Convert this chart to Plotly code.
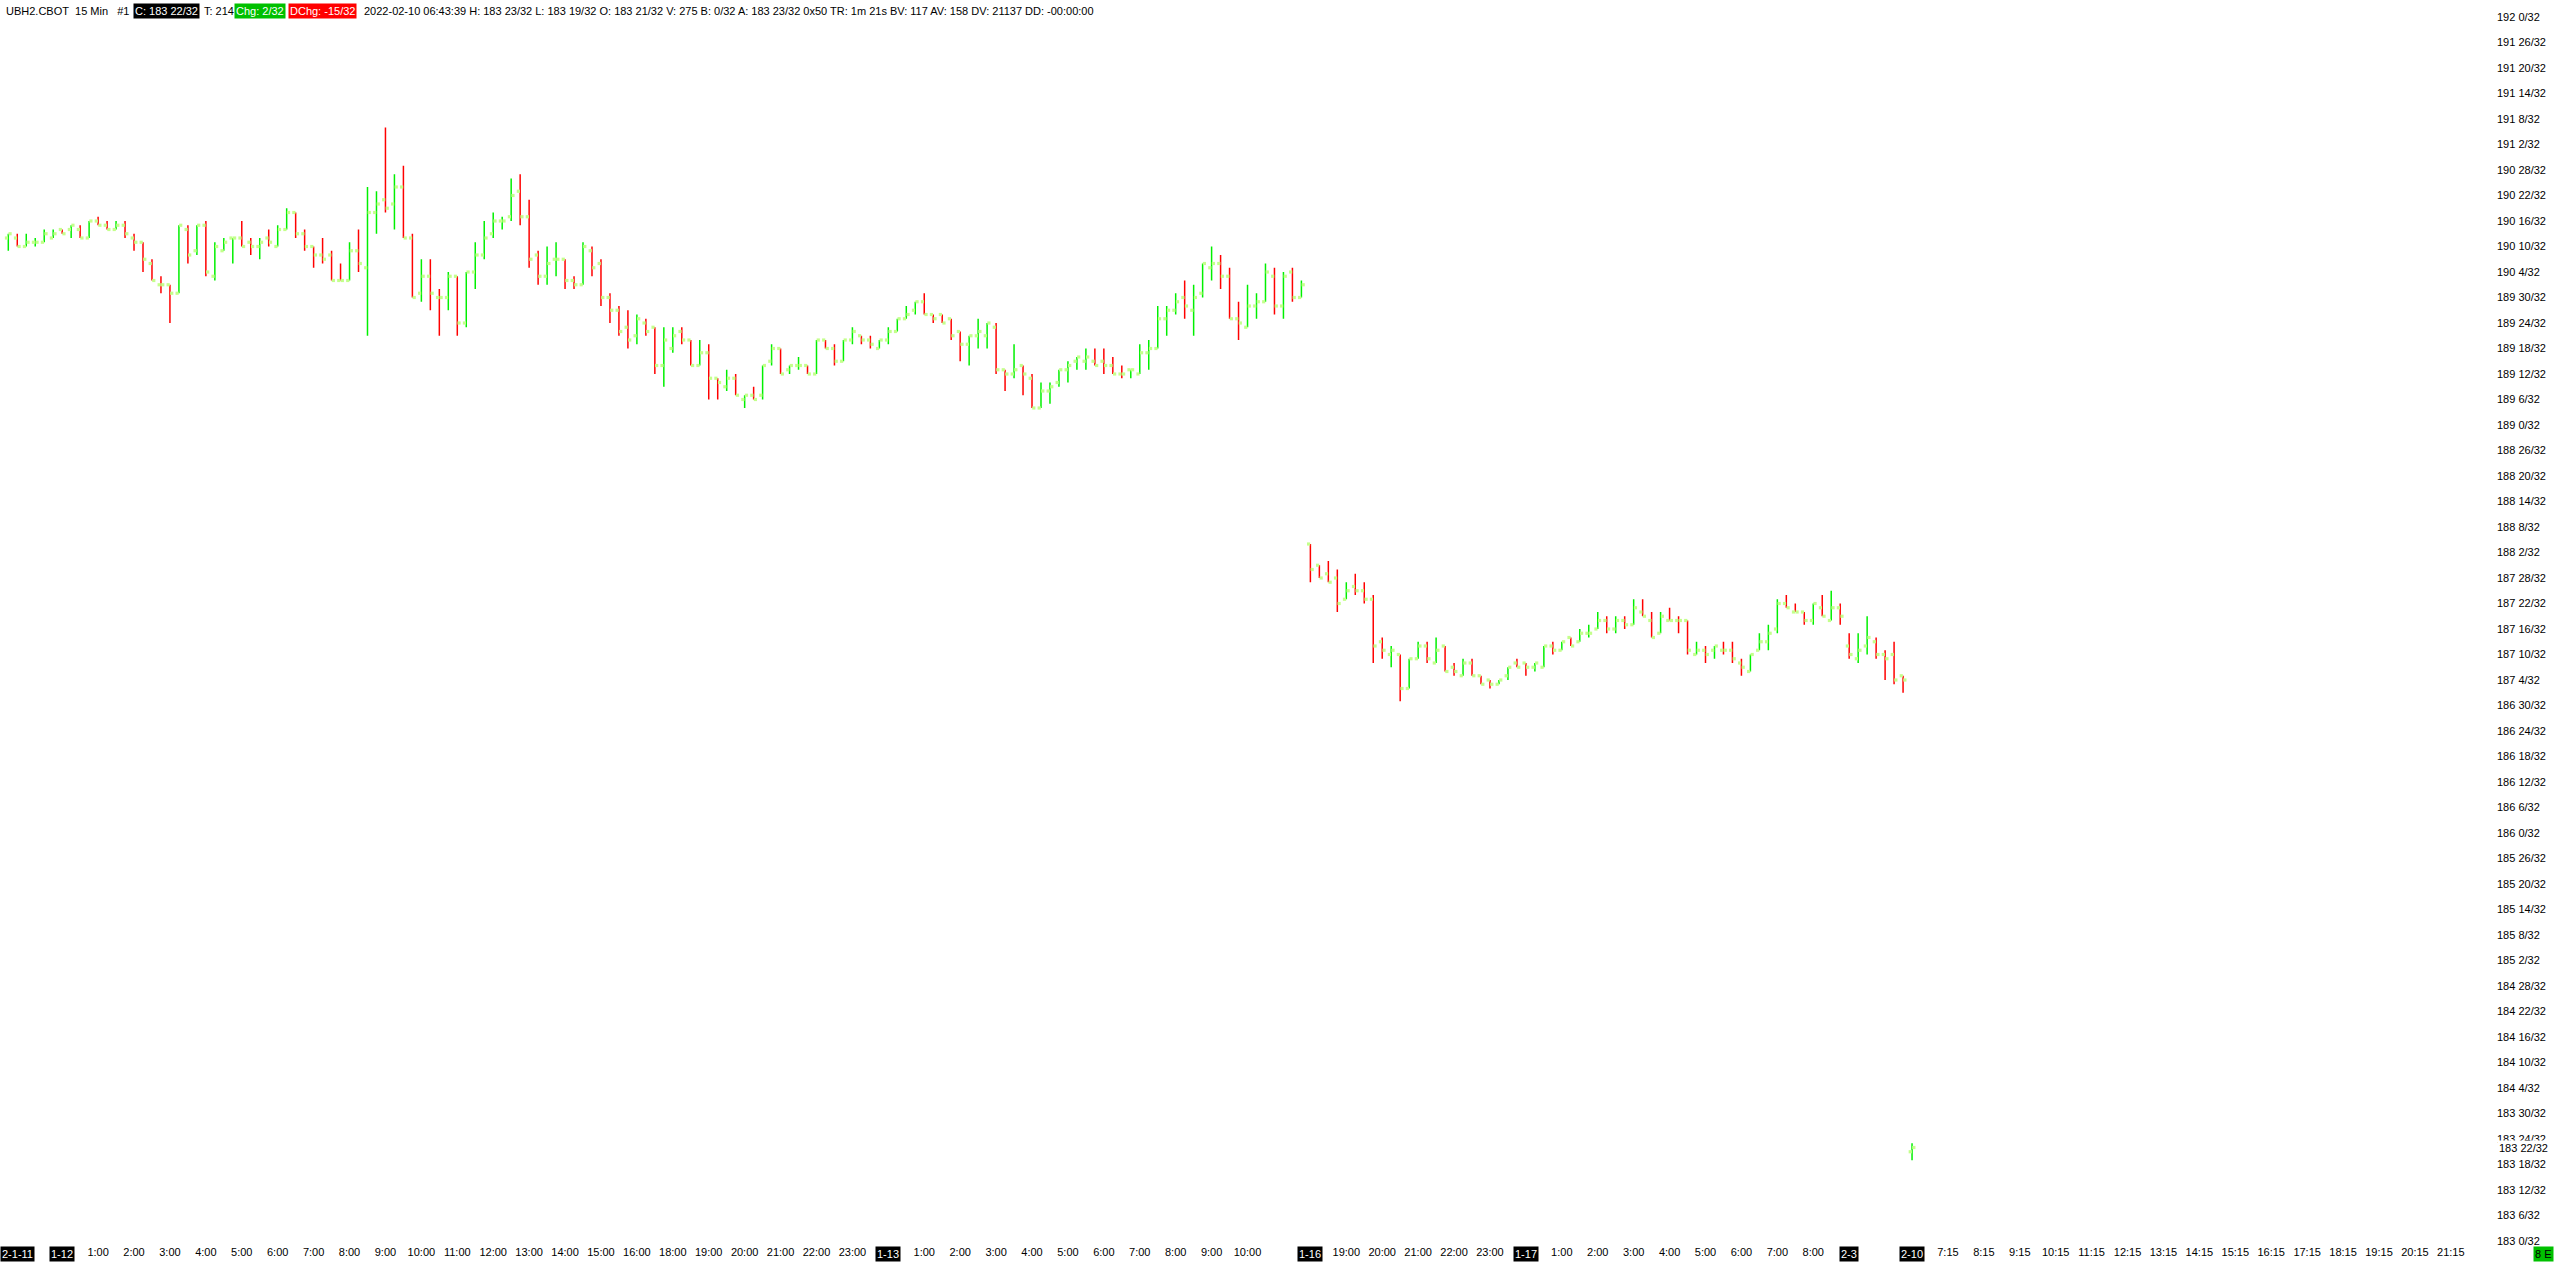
import plotly.graph_objects as go

# prices are stored as 32nds above this handle
BASE = 183

# 15 min bars, oldest first (1-11 evening ... 2-10 morning)
opens = [
    236, 236, 234, 235, 235, 236, 238, 238, 238, 236, 240, 239, 238, 239, 236, 235, 230, 225, 225, 223,
    238, 233, 239, 227, 233, 236, 236, 235, 234, 236, 234, 238, 242, 237, 234, 232, 232, 226, 226, 233,
    229, 242, 245, 244, 248, 236, 223, 227, 222, 222, 227, 216, 228, 232, 237, 240, 241, 247, 241, 232,
    227, 231, 231, 226, 225, 233, 230, 222, 219, 215, 213, 216, 215, 206, 210, 214, 212, 206, 209, 203,
    201, 203, 198, 199, 199, 207, 210, 205, 206, 206, 204, 212, 210, 207, 212, 213, 212, 210, 212, 214,
    217, 219, 221, 218, 218, 217, 214, 211, 213, 213, 215, 205, 204, 206, 203, 196, 200, 202, 205, 207,
    207, 207, 207, 206, 204, 205, 204, 209, 210, 217, 219, 222, 219, 223, 229, 230, 227, 217, 215, 220,
    221, 227, 220, 228, 222,
    164, 159, 157, 156, 151, 154, 153, 151, 141, 138, 138, 130, 137, 140, 136, 140, 135, 133, 136, 133,
    132, 131, 133, 136, 136, 135, 135, 140, 139, 142, 141, 143, 144, 146, 144, 146, 145, 148, 146, 143,
    146, 146, 146, 138, 139, 139, 139, 139, 136, 134, 139, 141, 144, 150, 148, 148, 146, 149, 146, 149,
    140, 137, 140, 141, 138, 138, 133,
    21,
]
highs = [
    237, 237, 237, 236, 238, 238, 238, 239, 239, 240, 241, 240, 240, 240, 237, 235, 231, 227, 225, 239,
    239, 239, 240, 235, 236, 236, 240, 236, 236, 238, 239, 243, 242, 238, 234, 236, 233, 230, 235, 238,
    248, 247, 262, 251, 253, 237, 231, 231, 224, 228, 227, 228, 235, 240, 242, 241, 250, 251, 245, 233,
    234, 235, 231, 227, 235, 234, 231, 223, 220, 219, 218, 217, 215, 215, 215, 215, 212, 212, 211, 203,
    205, 204, 199, 201, 206, 211, 210, 206, 208, 206, 212, 212, 211, 212, 215, 213, 213, 212, 215, 217,
    220, 221, 223, 218, 218, 217, 214, 213, 217, 216, 216, 205, 211, 206, 204, 202, 202, 205, 207, 208,
    210, 210, 210, 208, 206, 205, 211, 212, 220, 220, 223, 226, 225, 230, 234, 232, 229, 221, 225, 223,
    230, 229, 228, 229, 226,
    164, 159, 160, 158, 155, 157, 155, 152, 142, 140, 138, 137, 141, 141, 142, 140, 136, 137, 137, 133,
    132, 132, 135, 137, 136, 136, 140, 141, 141, 142, 144, 145, 148, 147, 147, 147, 151, 151, 148, 148,
    149, 147, 146, 141, 140, 140, 141, 141, 137, 138, 143, 145, 151, 152, 150, 148, 150, 152, 153, 150,
    143, 143, 147, 142, 139, 141, 133,
    23,
]
lows = [
    233, 234, 234, 234, 235, 236, 237, 236, 236, 236, 239, 238, 238, 236, 233, 228, 226, 223, 216, 223,
    230, 232, 227, 226, 233, 230, 234, 232, 231, 234, 234, 238, 236, 233, 229, 230, 226, 226, 226, 228,
    213, 237, 242, 238, 236, 222, 221, 219, 213, 219, 213, 215, 224, 231, 236, 238, 240, 239, 229, 225,
    225, 227, 224, 224, 225, 227, 220, 216, 213, 210, 211, 213, 204, 201, 209, 211, 206, 206, 198, 198,
    200, 199, 196, 198, 198, 206, 204, 204, 205, 204, 204, 210, 206, 207, 211, 211, 210, 210, 211, 214,
    217, 218, 218, 216, 216, 212, 207, 206, 210, 210, 204, 200, 203, 199, 196, 196, 197, 201, 202, 205,
    205, 206, 204, 204, 203, 203, 204, 205, 210, 213, 218, 217, 213, 222, 226, 224, 217, 212, 215, 217,
    221, 218, 217, 221, 222,
    155, 156, 155, 148, 151, 152, 150, 136, 137, 135, 127, 130, 137, 136, 136, 134, 133, 133, 133, 131,
    130, 131, 132, 135, 133, 134, 135, 138, 139, 140, 141, 142, 144, 143, 143, 144, 145, 147, 142, 143,
    146, 143, 138, 138, 136, 137, 138, 136, 133, 134, 139, 139, 143, 149, 148, 145, 145, 147, 146, 145,
    137, 136, 138, 137, 132, 131, 129,
    19,
]
closes = [
    237, 234, 235, 235, 237, 237, 237, 239, 236, 240, 239, 238, 239, 237, 235, 231, 226, 225, 223, 239,
    232, 239, 228, 234, 235, 236, 234, 234, 235, 235, 238, 242, 237, 234, 232, 231, 226, 226, 233, 230,
    242, 244, 243, 248, 236, 222, 227, 223, 222, 227, 216, 228, 232, 236, 240, 240, 246, 241, 231, 227,
    230, 231, 226, 225, 234, 229, 222, 219, 214, 212, 217, 214, 206, 212, 213, 212, 206, 209, 203, 202,
    203, 199, 199, 198, 206, 210, 204, 206, 206, 204, 212, 210, 207, 212, 214, 212, 211, 212, 214, 217,
    218, 221, 218, 217, 216, 213, 211, 213, 214, 216, 205, 204, 205, 204, 196, 200, 201, 205, 206, 208,
    208, 206, 206, 204, 204, 205, 209, 210, 217, 219, 221, 220, 222, 230, 230, 227, 217, 216, 220, 221,
    228, 220, 227, 222, 225,
    158, 156, 155, 150, 153, 153, 151, 140, 139, 139, 130, 137, 140, 137, 139, 134, 134, 136, 133, 131,
    131, 132, 135, 135, 135, 136, 140, 139, 141, 140, 143, 143, 146, 144, 146, 145, 149, 147, 142, 147,
    146, 146, 139, 139, 138, 140, 139, 137, 135, 138, 141, 143, 150, 149, 148, 146, 150, 147, 149, 147,
    138, 139, 142, 138, 137, 132, 132,
    22,
]

# hour labels on the time scale (bar number, text)
hour_bars = [
    10, 14, 18, 22, 26, 30, 34, 38, 42, 46, 50, 54, 58, 62, 66, 70,
    74, 78, 82, 86, 90, 94,
    102, 106, 110, 114, 118, 122, 126, 130, 134, 138,
    149, 153, 157, 161, 165,
    173, 177, 181, 185, 189, 193, 197, 201,
    216, 220, 224, 228, 232, 236, 240, 244, 248, 252, 256, 260, 264, 268, 272,
]
hour_text = [
    "1:00", "2:00", "3:00", "4:00", "5:00", "6:00", "7:00", "8:00", "9:00", "10:00", "11:00", "12:00",
    "13:00", "14:00", "15:00", "16:00",
    "18:00", "19:00", "20:00", "21:00", "22:00", "23:00",
    "1:00", "2:00", "3:00", "4:00", "5:00", "6:00", "7:00", "8:00", "9:00", "10:00",
    "19:00", "20:00", "21:00", "22:00", "23:00",
    "1:00", "2:00", "3:00", "4:00", "5:00", "6:00", "7:00", "8:00",
    "7:15", "8:15", "9:15", "10:15", "11:15", "12:15", "13:15", "14:15", "15:15", "16:15", "17:15",
    "18:15", "19:15", "20:15", "21:15",
]
# day changes, shown in black boxes (the first one sits against the left edge)
date_bars = [6, 98, 145, 169, 205, 212]
date_text = ["1-12", "1-13", "1-16", "1-17", "2-3", "2-10"]
first_date_text = "2-1-11"

# price scale: every 6/32 from 183 0/32 to 192 0/32
price_step_32 = 6
price_top_32 = 288


def fmt(v32):
    h, n = divmod(BASE * 32 + v32, 32)
    return f"{h} {n}/32"


def price(v32):
    return BASE + v32 / 32


W, H = 2556, 1266
PLOT_W = 2496
UP, DOWN, TICK = "#00f000", "#ff0000", "#c4ff8c"

# bar direction: close vs open, ties by previous close, then previous bar
up = []
for i, (o, c) in enumerate(zip(opens, closes)):
    if c != o:
        up.append(c > o)
    elif i > 0 and c != closes[i - 1]:
        up.append(c > closes[i - 1])
    else:
        up.append(up[-1] if up else True)

fig = go.Figure()
for want, color in [(True, UP), (False, DOWN)]:
    xs, ys = [], []
    for i in range(len(opens)):
        if up[i] == want:
            xs += [i, i, None]
            ys += [price(lows[i]), price(highs[i]), None]
    fig.add_trace(go.Scatter(x=xs, y=ys, mode="lines", line=dict(color=color, width=1.5),
                             hoverinfo="skip"))

idx = list(range(len(opens)))
fig.add_trace(go.Scatter(x=[i - 0.2 for i in idx], y=[price(v) for v in opens], mode="markers",
                         marker=dict(symbol="square", size=3.2, color=TICK, line=dict(width=0)),
                         hoverinfo="skip"))
fig.add_trace(go.Scatter(x=[i + 0.2 for i in idx], y=[price(v) for v in closes], mode="markers",
                         marker=dict(symbol="square", size=3.2, color=TICK, line=dict(width=0)),
                         hoverinfo="skip"))

ytick_vals = [price(v) for v in range(0, price_top_32 + 1, price_step_32)]
ytick_text = [fmt(v) for v in range(0, price_top_32 + 1, price_step_32)]

fig.update_layout(
    width=W, height=H,
    margin=dict(l=0, r=W - PLOT_W, t=0, b=22),
    paper_bgcolor="white", plot_bgcolor="white",
    showlegend=False, hovermode=False,
    font=dict(family="Liberation Sans", size=11, color="black"),
    xaxis=dict(range=[-0.924, 277.03], tickvals=hour_bars, ticktext=hour_text,
               showgrid=False, zeroline=False, showline=False, ticks=""),
    yaxis=dict(side="right", range=[182.978, 192.125], tickvals=ytick_vals, ticktext=ytick_text,
               showgrid=False, zeroline=False, showline=False, ticks=""),
)

# day boxes on the time scale
fig.add_annotation(x=0, xref="paper", xanchor="left", y=0, yref="paper", yanchor="top", yshift=-2,
                   text=first_date_text, showarrow=False, bgcolor="black", borderpad=1,
                   font=dict(color="white", size=11))
for b, t in zip(date_bars, date_text):
    fig.add_annotation(x=b, xref="x", y=0, yref="paper", yanchor="top", yshift=-2,
                       text=t, showarrow=False, bgcolor="black", borderpad=1,
                       font=dict(color="white", size=11))

# header line
header = [
    ("UBH2.CBOT\u00a0\u00a015 Min\u00a0\u00a0\u00a0#1", 4, None, "black"),
    ("C: " + fmt(closes[-1]), 133, "black", "white"),
    ("T: 214", 202, None, "black"),
    ("Chg: 2/32", 234, "#00c000", "white"),
    ("DChg: -15/32", 288, "#ff0000", "white"),
    ("2022-02-10 06:43:39 H: " + fmt(highs[-1]) + " L: " + fmt(lows[-1]) + " O: " + fmt(opens[-1])
     + " V: 275 B: 0/32 A: 183 23/32 0x50 TR: 1m 21s BV: 117 AV: 158 DV: 21137 DD: -00:00:00",
     362, None, "black"),
]
for text, px, bg, fg in header:
    fig.add_annotation(x=px / PLOT_W, xref="paper", xanchor="left", y=1, yref="paper",
                       yanchor="top", yshift=-3, text=text, showarrow=False,
                       bgcolor=bg if bg else "rgba(0,0,0,0)", borderpad=1,
                       font=dict(color=fg, size=11))

# last price marker on the price scale
fig.add_annotation(x=1, xref="paper", xanchor="left", xshift=1, y=price(closes[-1]), yref="y",
                   text=fmt(closes[-1]), showarrow=False, bgcolor="white", borderpad=1,
                   font=dict(color="black", size=11))
fig.add_annotation(x=2543 / PLOT_W, xref="paper", xanchor="center", y=0, yref="paper",
                   yanchor="top", yshift=-2, text="8 E", showarrow=False, bgcolor="#00c000",
                   borderpad=1, font=dict(color="black", size=11))

fig.write_html("out.html", config={"displayModeBar": False},
               post_script="document.body.style.margin='0';")
